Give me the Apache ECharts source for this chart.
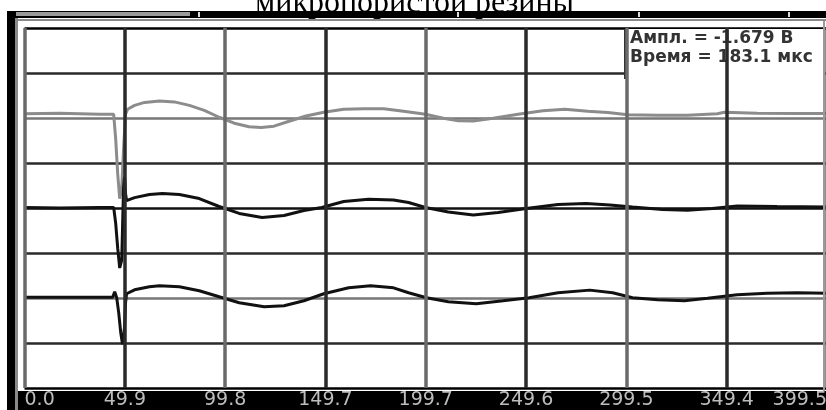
<!DOCTYPE html>
<html>
<head>
<meta charset="utf-8">
<script src="https://cdn.jsdelivr.net/npm/echarts@6/dist/echarts.min.js"></script>
<style>html,body{margin:0;padding:0;background:#fff;overflow:hidden}#c{width:830px;height:410px}</style>
</head>
<body>
<div id="c"></div>
<script>
// Tick labels of the time axis (µs)
const tickLabels = ['0.0','49.9','99.8','149.7','199.7','249.6','299.5','349.4','399.5'];
const tickStep = 49.9375;
// Annotation texts
const readout = ['Ампл. = -1.679 В', 'Время = 183.1 мкс'];
const titleText = 'микропористой резины';

// Trace 1 (grey, top) — time (µs), level (divisions)
const grayT = [0,17.6,37.4,44.4,45.4,46.4,47.4,48.4,49.3,50.3,51.3,54.8,59.8,67.2,74.6,82.1,89.5,96.9,104.4,111.8,117.8,124.2,131.7,140.1,149.0,158.9,168.9,178.8,188.7,199.6,208.5,216.0,223.4,233.3,245.7,258.1,269.0,280.4,290.4,300.3,315.2,330.0,344.9,348.4,364.7,384.7,399.5];
const grayV = [6.094,6.105,6.083,6.083,5.532,4.760,4.209,4.430,5.311,6.083,6.193,6.281,6.347,6.376,6.358,6.281,6.171,6.017,5.884,5.807,5.790,5.818,5.928,6.045,6.127,6.193,6.208,6.204,6.149,6.083,5.994,5.939,5.935,5.994,6.083,6.160,6.193,6.149,6.120,6.072,6.061,6.061,6.094,6.127,6.105,6.098,6.098];

// Trace 2 (black, middle)
const midT = [0,17.6,37.4,44.4,45.4,46.4,47.4,48.4,48.8,49.3,49.8,50.3,50.8,54.8,62.2,68.7,77.1,87.0,96.9,106.9,118.3,129.2,139.1,148.0,158.9,171.3,183.7,191.2,199.6,211.0,223.4,235.8,249.7,265.6,279.5,291.4,302.7,317.6,330.0,342.4,354.8,374.7,399.5];
const midV = [4.011,4.000,4.011,4.011,3.658,3.107,2.667,2.843,3.548,4.430,4.694,4.320,4.165,4.231,4.298,4.320,4.298,4.209,4.033,3.879,3.791,3.835,3.945,4.011,4.143,4.194,4.176,4.121,4.011,3.912,3.846,3.901,3.989,4.077,4.099,4.066,4.022,3.967,3.952,3.989,4.044,4.033,4.022];

// Trace 3 (black, bottom)
const lowT = [0,37.4,43.9,44.9,45.9,46.9,47.9,48.8,49.8,50.3,50.8,54.8,62.2,67.2,77.1,87.0,96.9,106.9,119.3,129.2,139.1,149.0,161.4,172.3,183.7,191.2,200.1,211.0,224.9,238.3,251.2,265.6,281.4,292.8,302.7,315.2,328.5,340.0,354.8,369.7,384.7,399.5];
const lowV = [2.017,2.017,2.017,2.138,2.006,1.675,1.234,0.970,1.344,1.895,2.094,2.182,2.248,2.270,2.248,2.160,2.028,1.895,1.807,1.829,1.939,2.094,2.226,2.270,2.226,2.116,2.006,1.917,1.873,1.939,2.006,2.116,2.175,2.116,2.006,1.961,1.939,1.994,2.072,2.105,2.116,2.105];

const pairs = (t, v) => t.map((x, i) => [x, v[i]]);

const chart = echarts.init(document.getElementById('c'), null, {renderer: 'canvas'});
chart.setOption({
  animation: false,
  backgroundColor: '#fff',
  grid: {left: 24.5, right: 0, top: 28, bottom: 19, containLabel: false},
  xAxis: {
    type: 'value', min: 0, max: 399.5, interval: tickStep, z: 80,
    axisLine: {show: false}, axisTick: {show: false},
    axisLabel: {
      show: true, margin: 3, color: '#bdbdbd', fontSize: 19, fontFamily: 'DejaVu Sans',
      verticalAlign: 'top', alignMinLabel: 'left', alignMaxLabel: 'right',
      formatter: v => tickLabels[Math.round(v / tickStep)]
    },
    splitLine: {show: true, lineStyle: {color: ['#6a6a6a', '#2a2a2a'], width: 3.5}}
  },
  yAxis: {
    type: 'value', min: 0, max: 8, interval: 1,
    axisLine: {show: false}, axisTick: {show: false}, axisLabel: {show: false},
    splitLine: {show: true, lineStyle: {color: ['#000','#2a2a2a','#777','#2a2a2a','#111','#2a2a2a','#777','#2a2a2a','#000'], width: 2.5}}
  },
  graphic: [
    {type: 'text', z: 50, left: 413 - 158, top: -12, style: {text: titleText, font: '32px "Liberation Serif"', fill: '#000'}},
    {type: 'rect', z: 60, shape: {x: 7, y: 11, width: 823, height: 7}, style: {fill: '#000'}},
    {type: 'rect', z: 61, shape: {x: 16, y: 12, width: 174, height: 4}, style: {fill: '#9a9a9a'}},
    {type: 'rect', z: 61, shape: {x: 198, y: 12, width: 2, height: 5}, style: {fill: '#ddd'}},
    {type: 'rect', z: 61, shape: {x: 457, y: 12, width: 2, height: 5}, style: {fill: '#ddd'}},
    {type: 'rect', z: 61, shape: {x: 638, y: 12, width: 2, height: 5}, style: {fill: '#ddd'}},
    {type: 'rect', z: 61, shape: {x: 788, y: 12, width: 2, height: 5}, style: {fill: '#ddd'}},
    {type: 'rect', z: 60, shape: {x: 15, y: 19, width: 815, height: 2}, style: {fill: '#8a8a8a'}},
    {type: 'rect', z: 60, shape: {x: 7, y: 11, width: 8, height: 399}, style: {fill: '#000'}},
    {type: 'rect', z: 60, shape: {x: 15, y: 18, width: 3, height: 392}, style: {fill: '#8a8a8a'}},
    {type: 'rect', z: 60, shape: {x: 823, y: 21, width: 2, height: 370}, style: {fill: '#9a9a9a'}},
    {type: 'rect', z: 1, shape: {x: 18, y: 391, width: 812, height: 19}, style: {fill: '#000'}},
    {type: 'rect', z: 60, shape: {x: 625, y: 29, width: 198, height: 49}, style: {fill: '#fff'}},
    {type: 'rect', z: 61, shape: {x: 624, y: 29, width: 3, height: 50}, style: {fill: '#333'}},
    {type: 'text', z: 62, left: 630, top: 30, style: {text: readout[0], font: 'bold 17px "DejaVu Sans"', fill: '#333'}},
    {type: 'text', z: 62, left: 630, top: 49, style: {text: readout[1], font: 'bold 17px "DejaVu Sans"', fill: '#333'}}
  ],
  series: [
    {type: 'line', data: pairs(grayT, grayV), showSymbol: false, smooth: false,
     lineStyle: {color: '#8c8c8c', width: 3}, z: 3},
    {type: 'line', data: pairs(midT, midV), showSymbol: false, smooth: false,
     lineStyle: {color: '#111', width: 3}, z: 4},
    {type: 'line', data: pairs(lowT, lowV), showSymbol: false, smooth: false,
     lineStyle: {color: '#111', width: 3}, z: 4}
  ]
});
</script>
</body>
</html>
